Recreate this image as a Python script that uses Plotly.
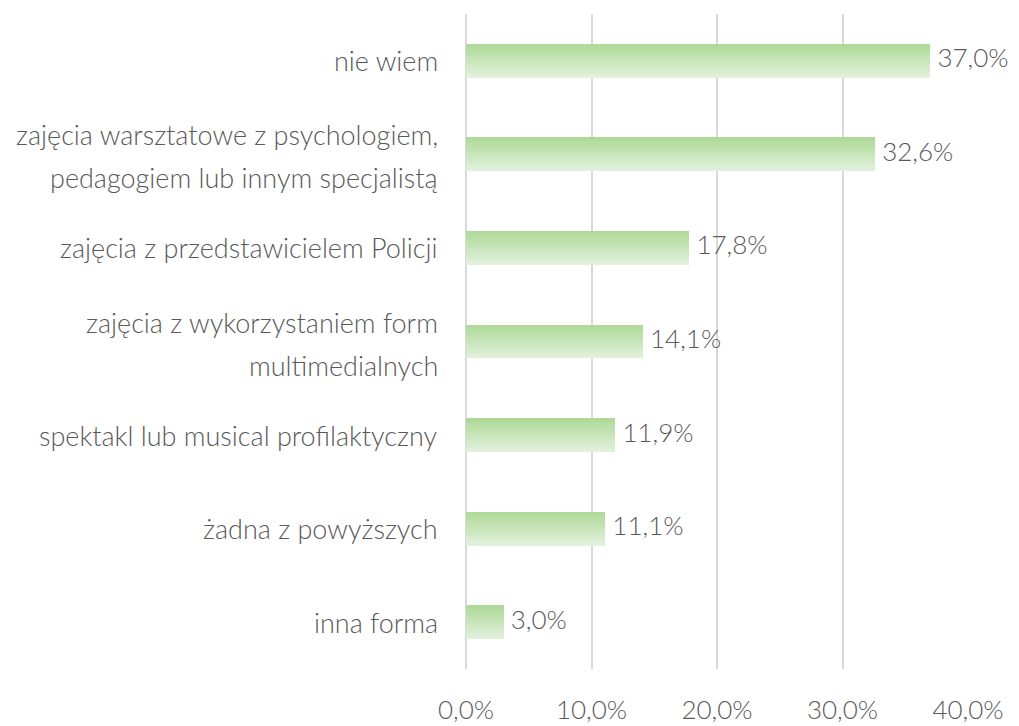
import plotly.graph_objects as go

# ---- data ----
categories = [
    "nie wiem",
    "zajęcia warsztatowe z psychologiem,<br>pedagogiem lub innym specjalistą",
    "zajęcia z przedstawicielem Policji",
    "zajęcia z wykorzystaniem form<br>multimedialnych",
    "spektakl lub musical profilaktyczny",
    "żadna z powyższych",
    "inna forma",
]
values = [37.0, 32.6, 17.8, 14.1, 11.9, 11.1, 3.0]
tick_values = [0, 10, 20, 30, 40]
tick_labels = ["0,0%", "10,0%", "20,0%", "30,0%", "40,0%"]

# ---- style ----
FONT = "Lato"
FW = 300
FS = 26
FS_CAT = 27
TEXT_COLOR = "#595959"
BAR_W = 0.363
N_SLICES = 14
TOP_RGB = (174, 217, 152)
BOT_RGB = (226, 241, 220)
OFF = 8  # page body margin (shifts figure right/down)

fig = go.Figure()

# gradient bars built from stacked thin slices of the same bar
for i in range(N_SLICES):
    t = i / (N_SLICES - 1)
    rgb = tuple(round(a + (b - a) * t) for a, b in zip(TOP_RGB, BOT_RGB))
    fig.add_trace(go.Bar(
        x=values, y=categories, orientation="h",
        width=BAR_W / N_SLICES,
        offset=-BAR_W / 2 + i * BAR_W / N_SLICES,
        marker=dict(color="rgb(%d,%d,%d)" % rgb, line=dict(width=0)),
        showlegend=False, hoverinfo="skip",
    ))

# value labels
fig.add_trace(go.Scatter(
    x=values, y=categories, mode="text",
    text=[" " + f"{v:.1f}%".replace(".", ",") for v in values],
    textposition="middle right",
    textfont=dict(family=FONT, size=FS, color=TEXT_COLOR, weight=FW),
    cliponaxis=False, showlegend=False, hoverinfo="skip",
))

# category labels as annotations (for wider line spacing)
annotations = []
LINE_GAP = 43
for cat in categories:
    lines = cat.split("<br>")
    n = len(lines)
    for j, ln in enumerate(lines):
        shift = ((n - 1) / 2 - j) * LINE_GAP - (2 if n > 1 else 0)
        annotations.append(dict(
            x=0, xref="paper", y=cat, yref="y",
            text=ln, showarrow=False, xanchor="right", yanchor="middle",
            xshift=-26, yshift=shift,
            font=dict(family=FONT, size=FS_CAT, color=TEXT_COLOR, weight=FW),
        ))

fig.update_layout(
    width=1019 - OFF, height=726 - OFF,
    margin=dict(l=466 - OFF, r=51, t=14 - OFF, b=57),
    paper_bgcolor="white", plot_bgcolor="white",
    barmode="overlay", bargap=0,
    annotations=annotations,
    font=dict(family=FONT, color=TEXT_COLOR, weight=FW),
)
fig.update_xaxes(
    range=[0, 40], tickvals=tick_values, ticktext=tick_labels,
    showgrid=True, gridcolor="#d9d9d9", gridwidth=1.5,
    zeroline=True, zerolinecolor="#d9d9d9", zerolinewidth=1.5,
    showline=False, ticks="", automargin=False,
    tickfont=dict(family=FONT, size=FS, color=TEXT_COLOR, weight=FW),
    ticklabelstandoff=23,
)
fig.update_yaxes(
    categoryorder="array", categoryarray=categories,
    autorange="reversed", showticklabels=False, automargin=False,
    showgrid=False, zeroline=False, showline=False, ticks="",
)

fig.write_html("out.html")
